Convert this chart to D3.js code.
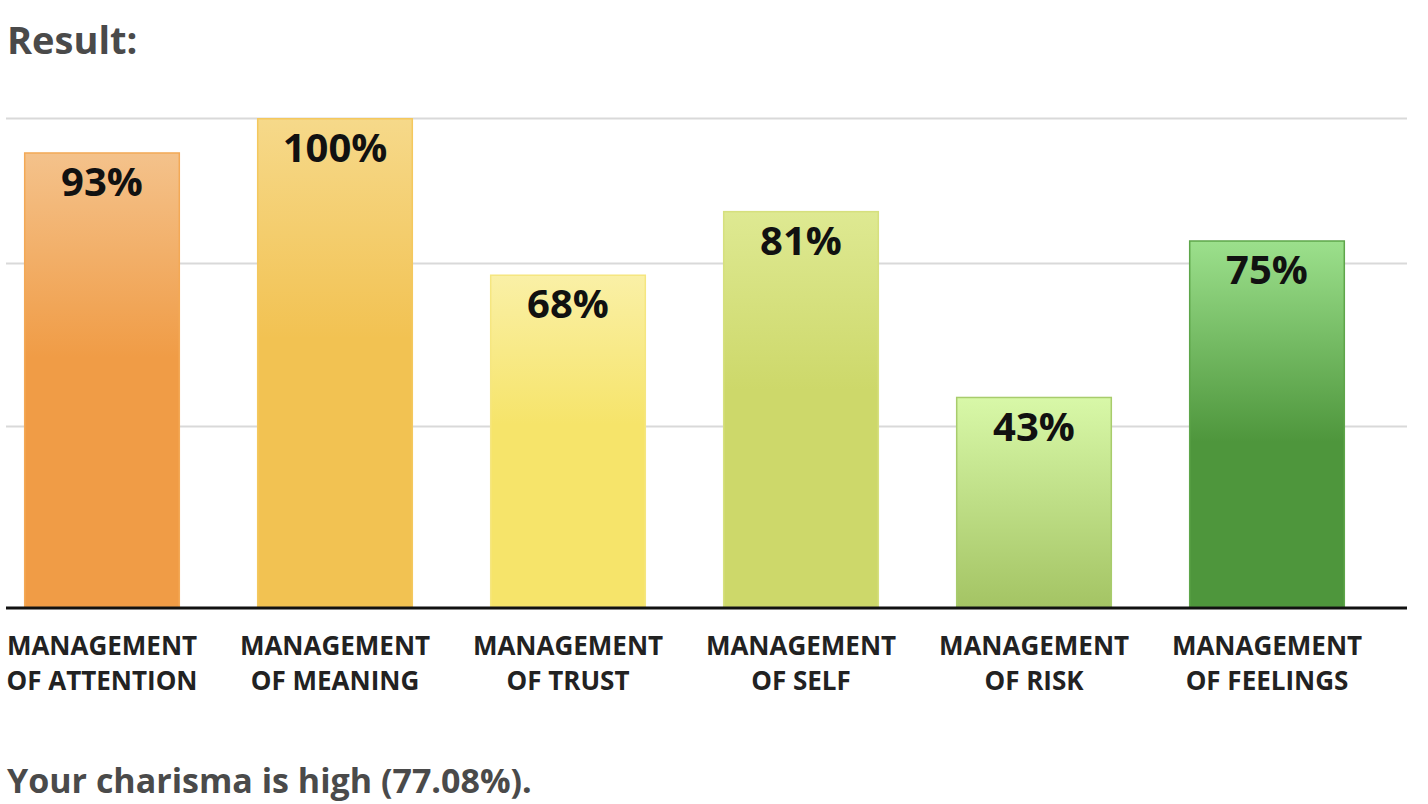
<!DOCTYPE html>
<html><head><meta charset="utf-8">
<script src="https://cdn.jsdelivr.net/npm/d3@7"></script>
<style>body{margin:0;background:#fff;font-family:"Open Sans",sans-serif}</style>
</head><body>
<svg id="c" width="1428" height="804"></svg>
<script>
const categories = [["MANAGEMENT","OF ATTENTION"],["MANAGEMENT","OF MEANING"],["MANAGEMENT","OF TRUST"],["MANAGEMENT","OF SELF"],["MANAGEMENT","OF RISK"],["MANAGEMENT","OF FEELINGS"]];
const values = [93, 100, 68, 81, 43, 75];
const topColors = ["#f4c28b","#f6d98a","#faf0a6","#dee992","#d8f8a8","#9ce08c"];
const baseColors = ["#f09c46","#f2c252","#f6e46a","#cdd86a","#a4c464","#4e963c"];
const strokeColors = ["#f3a956","#f4c85e","#f5e680","#d6e07e","#a8cc6c","#5ea64a"];
const gradStops = [0.45, 0.45, 0.45, 0.45, 1.0, 0.55];
const gridValues = [37, 70.3, 100];
const title = "Result:";
const summary = "Your charisma is high (77.08%).";

const svg = d3.select("#c");
const x = d3.scaleBand().domain(d3.range(values.length)).range([-14.5, 1383.5]).paddingInner(0.33).paddingOuter(0.165);
const y = d3.scaleLinear().domain([0, 100]).range([607, 118]);

const defs = svg.append("defs");
values.forEach((v, i) => {
  const g = defs.append("linearGradient").attr("id", "g" + i).attr("x1", 0).attr("y1", 0).attr("x2", 0).attr("y2", 1);
  g.append("stop").attr("offset", 0).attr("stop-color", topColors[i]);
  g.append("stop").attr("offset", gradStops[i]).attr("stop-color", baseColors[i]);
  g.append("stop").attr("offset", 1).attr("stop-color", baseColors[i]);
});

svg.append("text").attr("x", 7).attr("y", 54).attr("font-size", 38).attr("font-weight", 700).attr("fill", "#4a4a4a").text(title);

svg.append("g").selectAll("line").data(gridValues).join("line")
  .attr("x1", 6).attr("x2", 1407).attr("y1", d => Math.round(y(d)) + 0.5).attr("y2", d => Math.round(y(d)) + 0.5)
  .attr("stroke", "#d9d9d9").attr("stroke-width", 2);

svg.append("g").selectAll("rect").data(values).join("rect")
  .attr("x", (d, i) => x(i) + 0.75).attr("width", x.bandwidth() - 1.5)
  .attr("y", d => y(d) + 0.75).attr("height", d => y(0) - y(d) - 0.75)
  .attr("fill", (d, i) => `url(#g${i})`).attr("stroke", (d, i) => strokeColors[i]).attr("stroke-width", 1.5);

svg.append("g").selectAll("text").data(values).join("text")
  .attr("x", (d, i) => x(i) + x.bandwidth() / 2).attr("y", d => y(d) + 44)
  .attr("text-anchor", "middle").attr("font-size", 40).attr("font-weight", 700).attr("fill", "#111")
  .text(d => d + "%");

const ax = svg.append("g").attr("transform", "translate(0,607)")
  .call(d3.axisBottom(x).tickSize(0).tickFormat(""));
ax.select(".domain").remove();
svg.append("line").attr("x1", 6).attr("x2", 1407).attr("y1", 608).attr("y2", 608).attr("stroke", "#111").attr("stroke-width", 3);

const lab = svg.append("g").selectAll("text").data(categories).join("text")
  .attr("text-anchor", "middle").attr("font-size", 26).attr("font-weight", 700).attr("fill", "#222");
lab.each(function(d, i) {
  const t = d3.select(this);
  d.forEach((line, j) => t.append("tspan").attr("x", x(i) + x.bandwidth() / 2).attr("y", 655 + j * 35).text(line));
});

svg.append("text").attr("x", 7).attr("y", 793).attr("font-size", 34).attr("font-weight", 700).attr("fill", "#4a4a4a").text(summary);
</script>
</body></html>
